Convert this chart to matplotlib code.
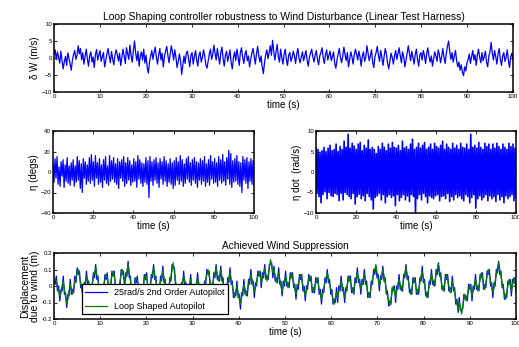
import numpy as np
import matplotlib.pyplot as plt

plt.rcParams['font.family'] = ['Liberation Sans', 'DejaVu Sans']

# wind disturbance (m/s), every 0.25 s
dw = [1.2, 2.4, -0.5, 1.8, 0.2, -1.5, 2.0, -0.8, -3.2, -1.0, 0.5, -2.2, 1.5, 0.0, -1.8, -3.6, -0.6, 1.0, 2.2, -0.4,
      0.8, 3.6, 1.2, 2.8, -0.5, 1.5, -1.8, 0.4, 2.6, -0.2, -2.4, 0.6, 1.8, -1.2, 0.3, -2.8, 1.0, 2.5, -0.6, 0.9,
      2.2, -1.0, 0.4, 1.6, -2.6, -0.8, 1.2, 2.8, 0.5, -1.4, 1.9, -0.3, -2.0, 0.8, 2.4, 1.0, -0.9, 1.4, -2.2, 0.2,
      2.6, 0.4, -1.6, 3.0, 1.2, -0.4, 3.8, 0.6, -1.2, 2.2, 5.0, 1.4, -0.8, 2.0, -2.4, 0.5, 1.8, -0.6, 2.6, -1.5,
      0.8, -2.8, -4.4, -1.2, 0.6, 2.2, -0.4, 1.6, 3.2, 0.2, -1.8, 1.0, 2.8, -0.6, 1.4, -2.6, 0.4, 2.0, 3.4, 0.8,
      -1.4, 1.2, 3.6, 1.8, -0.6, 2.4, 0.2, -2.8, -1.0, 1.2, -0.8, -4.8, -2.2, 0.6, -1.6, 1.4, 2.0, -0.2, -2.6, 0.8,
      1.6, -1.8, 0.4, 2.2, -0.6, -2.4, 0.8, 1.8, -1.2, 0.2, 2.4, 0.6, -2.0, -3.0, -0.8, 1.2, 2.6, -0.4, 1.0, 3.8,
      1.4, -0.6, 2.8, 0.6, -1.8, 1.6, 3.2, -0.2, -2.4, 0.8, 2.0, -1.0, 0.6, 2.4, -1.4, -3.2, 0.2, 1.8, -0.8, 2.6,
      0.4, -2.2, 1.6, 3.0, 0.2, -1.6, 1.0, 2.2, -0.8, 0.6, -2.6, -0.4, 1.4, 2.8, 0.4, -1.8, 1.2, 3.4, 0.8, -1.2,
      0.6, -2.6, -4.6, -1.4, 1.0, 2.4, -0.2, 1.6, 3.6, 0.8, 5.2, 2.0, -0.6, 1.8, 4.0, 0.4, -1.2, 2.6, 0.2, -1.8,
      1.0, 2.6, -0.4, -2.2, 0.8, 1.6, -1.0, 0.2, 2.0, 0.6, -1.6, 1.2, 2.8, -0.2, -1.4, 0.4, 1.8, -0.8, 0.6, 2.2,
      -0.6, -2.4, 0.2, 1.4, 2.6, 0.4, -1.2, 0.8, 2.2, -0.4, -2.0, 0.6, 1.6, 3.0, 0.2, -1.6, 1.0, 2.4, -0.6, 0.8,
      2.0, -0.8, 0.4, 1.8, -1.6, -3.0, -0.6, 1.2, 2.8, 0.2, -1.4, 0.6, 3.2, 1.0, -0.8, 1.6, -2.6, -0.4, 1.8, 0.4,
      -1.8, 0.8, 2.6, 1.2, -0.6, 2.0, 0.4, -2.4, 0.6, 1.8, -1.0, 0.2, 3.6, 1.4, -0.8, 0.6, 2.4, -1.2, -2.8, 0.4,
      1.6, 3.4, 0.8, -1.0, 2.2, 0.2, -2.2, 0.6, 2.8, 1.0, -1.6, -3.2, -0.8, 1.4, 0.2, -1.8, 0.6, 2.2, -0.4, 1.2,
      3.0, 0.6, -1.4, 1.8, 0.4, -2.6, -0.6, 1.6, 3.6, 1.2, -0.8, 2.0, 0.2, -1.8, 1.0, 2.6, -0.4, -2.4, 0.8, 1.6,
      -0.6, 2.2, 0.8, -1.6, 1.4, 3.0, 0.4, -1.2, 0.6, -2.4, -0.2, 1.8, 0.6, -1.0, 2.4, 1.0, -1.4, 0.4, 2.8, 0.2,
      -1.6, 1.2, 3.4, 5.0, 2.0, -0.4, 1.6, -1.2, 0.6, 2.2, -0.8, -2.6, -1.2, -3.6, -2.0, -4.2, -5.2, -2.6, -3.8, -1.4,
      -0.4, 1.2, -1.6, 0.4, 2.2, -0.6, 1.0, -2.2, 0.8, 2.6, 0.2, -1.4, 1.6, -0.8, 0.4, 2.0, -1.2, -2.6, 0.6, 1.8,
      4.6, 1.4, -0.6, 2.2, 0.4, -1.8, 1.2, 2.8, -0.4, -2.2, 0.6, 1.6, -1.0, 0.2, 2.4, -0.8, -2.8, 0.4, 1.4, -0.6]

# eta (degs), every 0.5 s
eta = [8, -10, 13, -6, 15, -12, 5, -14, 10, -4, 12, -15, 7, -9, 14, -11, 6, -13, 9, -8,
       12, -14, 6, -10, 15, -8, 11, -16, 8, -20, 13, -6, 10, -12, 7, -9, 14, -11, 17, -8,
       10, -14, 16, -6, 9, -12, 13, -10, 7, -15, 12, -8, 15, -11, 6, -13, 16, -9, 11, -7,
       14, -10, 8, -12, 13, -16, 10, -6, 12, -9, 15, -14, 9, -11, 14, -8, 11, -13, 7, -10,
       13, -9, 10, -15, 16, -7, 12, -11, 9, -14, 8, -10, 14, -12, 11, -25, 15, -9, 10, -13,
       12, -8, 14, -11, 9, -15, 13, -7, 10, -12, 15, -9, 11, -14, 8, -10, 13, -12, 9, -16,
       11, -13, 14, -8, 10, -12, 16, -9, 12, -14, 8, -11, 13, -7, 15, -10, 9, -13, 12, -8,
       14, -11, 10, -15, 9, -8, 13, -12, 11, -9, 15, -14, 8, -10, 12, -13, 16, -7, 10, -11,
       13, -10, 9, -14, 15, -8, 12, -11, 17, -9, 10, -13, 14, -7, 21, -12, 18, -15, 11, -10,
       13, -9, 16, -12, 10, -14, 9, -20, 15, -8, 12, -11, 14, -16, 10, -9, 13, -12, 11, -14]

# eta dot (rad/s), every 0.5 s
eta_dot = [6, -5, 5.5, -6, 4.8, -7.5, 5.2, -5.5, 6, -4.8, 5, -6.5, 5.8, -5, 6.5, -5.8, 5.2, -6, 5.5, -5.2,
           6.8, -5.5, 5, -7, 6.2, -5.2, 5.5, -6.8, 7.5, -5, 6, -5.5, 9.2, -6, 5.8, -6.5, 7, -5.2, 6.3, -7.8,
           5.5, -6, 6.8, -5.4, 7.2, -6.5, 5.2, -5.8, 6.5, -7, 5.8, -5.2, 7.8, -6, 5.5, -6.8, 6, -9, 5.5, -6.2,
           4.5, -5.8, 6.2, -5.2, 5.5, -6.8, 7, -5.5, 6, -7.5, 5.2, -6, 6.8, -5.5, 5.8, -6.2, 7.2, -5.8, 6, -8.2,
           5.8, -5.5, 6.5, -7, 5.2, -6.2, 7.5, -5.5, 5.8, -6.8, 6.2, -5.8, 5.5, -7.2, 6.8, -5.5, 8, -6, 5.5, -10,
           6, -6.5, 7, -5.5, 5.8, -6.8, 6.5, -5.2, 7.2, -6, 5.5, -7.5, 6, -5.8, 6.8, -6.2, 5.5, -6.5, 7, -5.8,
           6.2, -5.5, 5.8, -7, 6.5, -6, 7.5, -5.8, 5.5, -6.5, 6.8, -5.2, 6, -7.2, 5.5, -6, 7, -6.8, 5.8, -5.5,
           6.5, -6.2, 5.5, -5.8, 7, -6.5, 6, -7, 5.8, -5.5, 6.8, -6, 5.5, -7.5, 9.2, -6.2, 6, -5.5, 6.5, -8.8,
           5.8, -6.5, 7.2, -5.8, 6, -6.8, 5.5, -6.2, 7, -5.5, 6.2, -7, 6.8, -5.8, 5.5, -6.5, 6.8, -6, 5.8, -7.2,
           7, -5.5, 6.2, -6.8, 5.5, -6, 6.8, -7.5, 6, -5.8, 5.5, -6.5, 7, -6, 6.2, -5.5, 6.8, -7, 5.8, -6.2]

# displacement due to wind (m), every 0.25 s
disp_2nd = [0.04, 0.01, 0.06, -0.03, 0.0, -0.09, -0.02, -0.03, 0.06, -0.05, -0.04, -0.13, -0.05, -0.06, 0.04, -0.05, -0.02, -0.04, 0.06, 0.02,
            0.11, 0.07, 0.09, -0.01, 0.01, -0.08, 0.02, 0.0, 0.09, 0.01, 0.03, -0.07, 0.01, -0.01, 0.08, 0.05, 0.13, 0.04, 0.06, -0.04,
            -0.01, -0.1, 0.0, -0.02, 0.07, 0.04, 0.08, -0.02, 0.01, -0.01, 0.09, 0.06, 0.09, -0.01, 0.0, -0.09, 0.01, 0.0, 0.1, 0.07,
            0.09, -0.01, 0.08, 0.06, 0.15, 0.05, 0.06, -0.04, -0.02, -0.05, 0.05, 0.02, 0.06, -0.04, -0.02, -0.11, -0.01, -0.03, 0.07, 0.04,
            0.08, -0.02, 0.0, -0.03, 0.07, 0.05, 0.13, 0.04, 0.06, -0.04, -0.01, -0.04, 0.06, 0.03, 0.12, 0.02, 0.04, -0.06, -0.03, -0.05,
            0.05, 0.03, 0.13, 0.11, 0.11, 0.0, 0.01, -0.09, -0.06, -0.08, 0.02, 0.0, 0.09, 0.0, 0.02, -0.08, 0.0, -0.02, 0.07, -0.02,
            0.0, -0.09, 0.01, -0.01, 0.08, -0.01, 0.01, -0.08, -0.05, -0.07, 0.03, 0.01, 0.1, 0.07, 0.09, -0.01, 0.01, -0.02, 0.08, 0.05,
            0.13, 0.04, 0.06, 0.03, 0.12, 0.03, 0.05, -0.05, -0.02, -0.05, 0.05, 0.02, 0.11, 0.01, 0.03, -0.07, -0.04, -0.06, 0.03, -0.07,
            -0.05, -0.14, -0.04, -0.06, 0.04, -0.05, -0.03, -0.06, 0.04, 0.01, 0.1, 0.01, 0.03, -0.07, 0.02, 0.0, 0.09, 0.06, 0.09, -0.01,
            0.08, 0.05, 0.13, 0.04, 0.06, 0.04, 0.13, 0.13, 0.14, 0.05, 0.12, 0.03, 0.05, 0.02, 0.11, 0.01, 0.03, -0.06, 0.03, 0.0,
            0.09, 0.0, 0.02, -0.01, 0.08, 0.05, 0.08, -0.01, 0.01, -0.08, 0.01, -0.02, 0.07, 0.04, 0.07, -0.03, 0.0, -0.09, 0.0, -0.02,
            0.07, 0.03, 0.06, -0.04, -0.01, -0.04, 0.05, 0.02, 0.05, -0.05, -0.02, -0.11, -0.02, -0.04, 0.05, 0.02, 0.1, 0.02, 0.04, -0.05,
            -0.02, -0.11, -0.08, -0.1, -0.01, -0.1, 0.0, -0.03, 0.06, -0.03, -0.01, -0.1, -0.01, -0.03, 0.06, 0.03, 0.06, -0.04, -0.01, -0.05,
            0.05, 0.02, 0.11, 0.02, 0.04, -0.05, 0.04, 0.01, 0.1, 0.01, 0.03, -0.07, -0.04, -0.07, 0.03, 0.01, 0.1, 0.07, 0.12, 0.05,
            0.07, -0.03, 0.06, 0.04, 0.12, 0.03, 0.05, -0.05, -0.03, -0.12, -0.09, -0.11, -0.01, -0.03, 0.0, -0.1, 0.0, -0.02, 0.07, -0.02,
            0.0, -0.03, 0.07, 0.05, 0.13, 0.04, 0.06, -0.04, -0.02, -0.05, 0.05, 0.02, 0.05, -0.05, -0.02, -0.05, 0.05, 0.03, 0.12, 0.02,
            0.04, -0.06, -0.04, -0.07, 0.03, 0.01, 0.1, 0.01, 0.03, 0.0, 0.1, 0.07, 0.14, 0.06, 0.08, -0.02, 0.0, -0.03, 0.07, 0.04,
            0.07, -0.03, -0.01, -0.04, 0.06, -0.03, -0.01, -0.11, -0.08, -0.16, -0.07, -0.15, -0.14, -0.14, -0.05, -0.08, -0.06, -0.09, 0.01, -0.02,
            0.01, -0.09, 0.0, -0.02, 0.07, -0.02, 0.0, -0.03, 0.07, 0.05, 0.08, -0.02, 0.01, -0.01, 0.09, 0.07, 0.1, 0.0, 0.02, -0.07,
            0.02, 0.0, 0.1, 0.08, 0.15, 0.07, 0.09, -0.01, 0.01, -0.08, -0.05, -0.07, 0.03, 0.01, 0.04, -0.06, 0.04, 0.02, 0.05, -0.04]

disp_loop = [0.02, 0.04, 0.03, 0.0, -0.03, -0.06, -0.04, 0.0, 0.03, -0.02, -0.07, -0.11, -0.08, -0.03, 0.01, -0.02, -0.05, -0.01, 0.03, 0.05,
             0.08, 0.1, 0.06, 0.02, -0.02, -0.05, -0.01, 0.03, 0.06, 0.04, 0.0, -0.04, -0.02, 0.02, 0.05, 0.08, 0.11, 0.07, 0.03, -0.01,
             -0.04, -0.07, -0.03, 0.01, 0.04, 0.07, 0.05, 0.01, -0.02, 0.02, 0.06, 0.09, 0.06, 0.02, -0.03, -0.06, -0.02, 0.03, 0.07, 0.1,
             0.06, 0.02, 0.05, 0.09, 0.13, 0.08, 0.03, -0.01, -0.05, -0.02, 0.02, 0.05, 0.03, -0.01, -0.05, -0.08, -0.04, 0.0, 0.04, 0.07,
             0.05, 0.01, -0.03, 0.0, 0.04, 0.08, 0.11, 0.07, 0.03, -0.01, -0.04, -0.01, 0.03, 0.06, 0.09, 0.05, 0.01, -0.03, -0.06, -0.02,
             0.02, 0.06, 0.1, 0.14, 0.08, 0.03, -0.02, -0.06, -0.09, -0.05, -0.01, 0.03, 0.06, 0.03, -0.01, -0.05, -0.03, 0.01, 0.04, 0.01,
             -0.03, -0.06, -0.02, 0.02, 0.05, 0.02, -0.02, -0.05, -0.08, -0.04, 0.0, 0.04, 0.07, 0.1, 0.06, 0.02, -0.02, 0.01, 0.05, 0.08,
             0.11, 0.07, 0.03, 0.06, 0.1, 0.06, 0.02, -0.02, -0.05, -0.02, 0.02, 0.05, 0.08, 0.04, 0.0, -0.04, -0.07, -0.03, 0.0, -0.04,
             -0.08, -0.11, -0.07, -0.03, 0.01, -0.02, -0.06, -0.03, 0.01, 0.04, 0.07, 0.04, 0.0, -0.04, -0.01, 0.03, 0.06, 0.09, 0.06, 0.02,
             0.05, 0.08, 0.11, 0.07, 0.03, 0.07, 0.11, 0.16, 0.12, 0.08, 0.1, 0.06, 0.02, 0.05, 0.08, 0.04, 0.0, -0.03, 0.0, 0.03,
             0.06, 0.03, -0.01, 0.02, 0.05, 0.08, 0.05, 0.02, -0.02, -0.05, -0.02, 0.01, 0.04, 0.07, 0.04, 0.0, -0.03, -0.06, -0.03, 0.01,
             0.04, 0.06, 0.03, -0.01, -0.04, -0.01, 0.02, 0.05, 0.02, -0.02, -0.05, -0.08, -0.05, -0.01, 0.02, 0.05, 0.08, 0.05, 0.01, -0.02,
             -0.05, -0.08, -0.11, -0.07, -0.04, -0.07, -0.03, 0.0, 0.03, 0.0, -0.04, -0.07, -0.04, 0.0, 0.03, 0.06, 0.03, -0.01, -0.04, -0.02,
             0.02, 0.05, 0.08, 0.05, 0.01, -0.02, 0.01, 0.04, 0.07, 0.04, 0.0, -0.04, -0.07, -0.04, 0.0, 0.04, 0.07, 0.1, 0.13, 0.08,
             0.04, 0.0, 0.03, 0.07, 0.1, 0.06, 0.02, -0.02, -0.06, -0.09, -0.12, -0.08, -0.04, 0.0, -0.03, -0.07, -0.03, 0.01, 0.04, 0.01,
             -0.03, 0.0, 0.04, 0.08, 0.11, 0.07, 0.03, -0.01, -0.05, -0.02, 0.02, 0.05, 0.02, -0.02, -0.05, -0.02, 0.02, 0.06, 0.09, 0.05,
             0.01, -0.03, -0.07, -0.04, 0.0, 0.04, 0.07, 0.04, 0.0, 0.03, 0.07, 0.1, 0.13, 0.09, 0.05, 0.01, -0.03, 0.0, 0.04, 0.07,
             0.04, 0.0, -0.04, -0.01, 0.03, 0.0, -0.04, -0.08, -0.11, -0.14, -0.1, -0.13, -0.17, -0.12, -0.08, -0.05, -0.09, -0.06, -0.02, 0.01,
             -0.02, -0.06, -0.03, 0.01, 0.04, 0.01, -0.03, 0.0, 0.04, 0.08, 0.05, 0.01, -0.02, 0.02, 0.06, 0.1, 0.07, 0.03, -0.01, -0.04,
             -0.01, 0.03, 0.07, 0.11, 0.14, 0.1, 0.06, 0.02, -0.02, -0.05, -0.08, -0.04, 0.0, 0.04, 0.01, -0.03, 0.01, 0.05, 0.02, -0.01]

W, H = 519, 347
fig = plt.figure(figsize=(W / 100, H / 100), dpi=100)


def px_axes(left, top, right, bottom):
    return fig.add_axes([left / W, 1 - bottom / H, (right - left) / W, (bottom - top) / H])


def style(ax, yticks, xstep):
    ax.set_xlim(0, 100)
    ax.set_xticks(np.arange(0, 101, xstep))
    ax.set_ylim(yticks[0], yticks[-1])
    ax.set_yticks(yticks)
    ax.tick_params(direction='in', length=2.5, width=0.6, labelsize=4.4, pad=1.5,
                   top=True, right=True)
    for s in ax.spines.values():
        s.set_linewidth(1.1)
    ax.set_xlabel('time (s)', fontsize=7, labelpad=1)


blue = '#0000ff'
green = '#008000'

ax1 = px_axes(54, 24, 513, 92)
ax1.plot(np.linspace(0, 100, len(dw)), dw, color=blue, lw=0.9)
style(ax1, [-10, -5, 0, 5, 10], 10)
ax1.set_ylabel('δ W (m/s)', fontsize=7, labelpad=1)
ax1.set_title('Loop Shaping controller robustness to Wind Disturbance (Linear Test Harness)',
              fontsize=7.5, pad=3)

ax2 = px_axes(53, 131, 254, 213)
ax2.plot(np.linspace(0, 100, len(eta)), eta, color=blue, lw=0.9)
style(ax2, [-40, -20, 0, 20, 40], 20)
ax2.set_ylabel('η (degs)', fontsize=7, labelpad=1)

ax3 = px_axes(316, 131, 516, 213)
ax3.plot(np.linspace(0, 100, len(eta_dot)), eta_dot, color=blue, lw=1.2)
style(ax3, [-10, -5, 0, 5, 10], 20)
ax3.set_ylabel('η dot  (rad/s)', fontsize=7, labelpad=1)

ax4 = px_axes(54, 253, 516, 319)
td = np.linspace(0, 100, len(disp_2nd))
ax4.plot(td, disp_2nd, color=blue, lw=0.9, label='25rad/s 2nd Order Autopilot')
ax4.plot(td, disp_loop, color=green, lw=0.9, label='Loop Shaped Autopilot')
style(ax4, [-0.2, -0.1, 0, 0.1, 0.2], 10)
ax4.set_yticklabels(['-0.2', '-0.1', '0', '0.1', '0.2'])
ax4.set_ylabel('Displacement\ndue to wind (m)', fontsize=7.5, labelpad=1, linespacing=1.0)
ax4.set_title('Achieved Wind Suppression', fontsize=7.3, pad=3)
leg = ax4.legend(loc='lower left', bbox_to_anchor=(0.06, 0.07), fontsize=6.5, fancybox=False,
                 framealpha=1, edgecolor='black', borderpad=0.4, labelspacing=0.55,
                 handlelength=2.4, borderaxespad=0)
leg.get_frame().set_linewidth(0.9)

fig.savefig('out.png', dpi=100)
